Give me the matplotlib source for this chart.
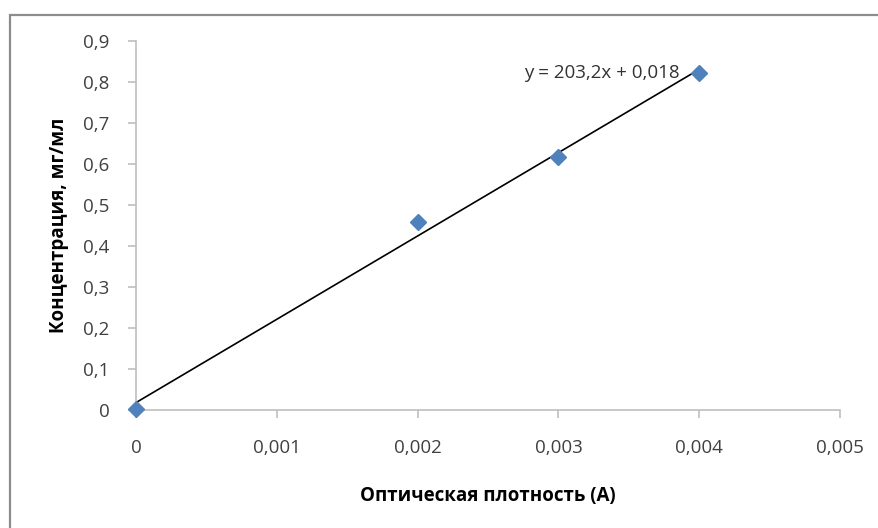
import matplotlib.pyplot as plt
import matplotlib.patches as patches
import numpy as np

# calibration points: optical density vs concentration
density = [0.0, 0.002, 0.003, 0.004]
concentration = [0.003, 0.458, 0.618, 0.822]

# linear trend line
slope = 203.2
intercept = 0.018

x_ticks = [0, 0.001, 0.002, 0.003, 0.004, 0.005]
y_ticks = [0, 0.1, 0.2, 0.3, 0.4, 0.5, 0.6, 0.7, 0.8, 0.9]

plt.rcParams['font.family'] = ['Open Sans', 'DejaVu Sans']

fig = plt.figure(figsize=(8.79, 5.28), dpi=100)
ax = fig.add_axes([0.1547, 0.2235, 0.8009, 0.6988])

# chart area frame (runs off the right and bottom edge)
frame = patches.Rectangle((10 / 879, -0.05), 1.2, 1 - 15 / 528 + 0.05,
                          transform=fig.transFigure, fill=False,
                          edgecolor='#8c8c8c', linewidth=1.6, clip_on=False)
fig.patches.append(frame)

xs = np.array([0.0, 0.004])
ax.plot(xs, slope * xs + intercept, color='black', linewidth=1.2, zorder=2)
ax.plot(density, concentration, linestyle='none', marker='D', markersize=8.5,
        color='#4f81bd', zorder=3, clip_on=False)

ax.text(0.00386, 0.823, 'y = 203,2x + 0,018', ha='right', va='center',
        fontsize=13.5, color='#333333')

ax.set_xlim(0, 0.005)
ax.set_ylim(0, 0.9)
ax.set_xticks(x_ticks)
ax.set_yticks(y_ticks)
ax.set_xticklabels([('%g' % v if v == 0 else '%.3f' % v).replace('.', ',') for v in x_ticks])
ax.set_yticklabels([('%g' % v).replace('.', ',') for v in y_ticks])

for side in ['top', 'right']:
    ax.spines[side].set_visible(False)
for side in ['left', 'bottom']:
    ax.spines[side].set_color('#bfbfbf')
    ax.spines[side].set_linewidth(1.2)

ax.tick_params(axis='both', colors='#bfbfbf', labelcolor='#404040',
               labelsize=13.5, length=6, width=1.2)
ax.tick_params(axis='x', pad=15)
ax.tick_params(axis='y', pad=13)

ax.set_xlabel('Оптическая плотность (А)', fontsize=13.5, fontweight='bold',
              labelpad=21)
ax.set_ylabel('Концентрация, мг/мл', fontsize=13.5, fontweight='bold',
              labelpad=10)

fig.savefig('out.png', dpi=100)
